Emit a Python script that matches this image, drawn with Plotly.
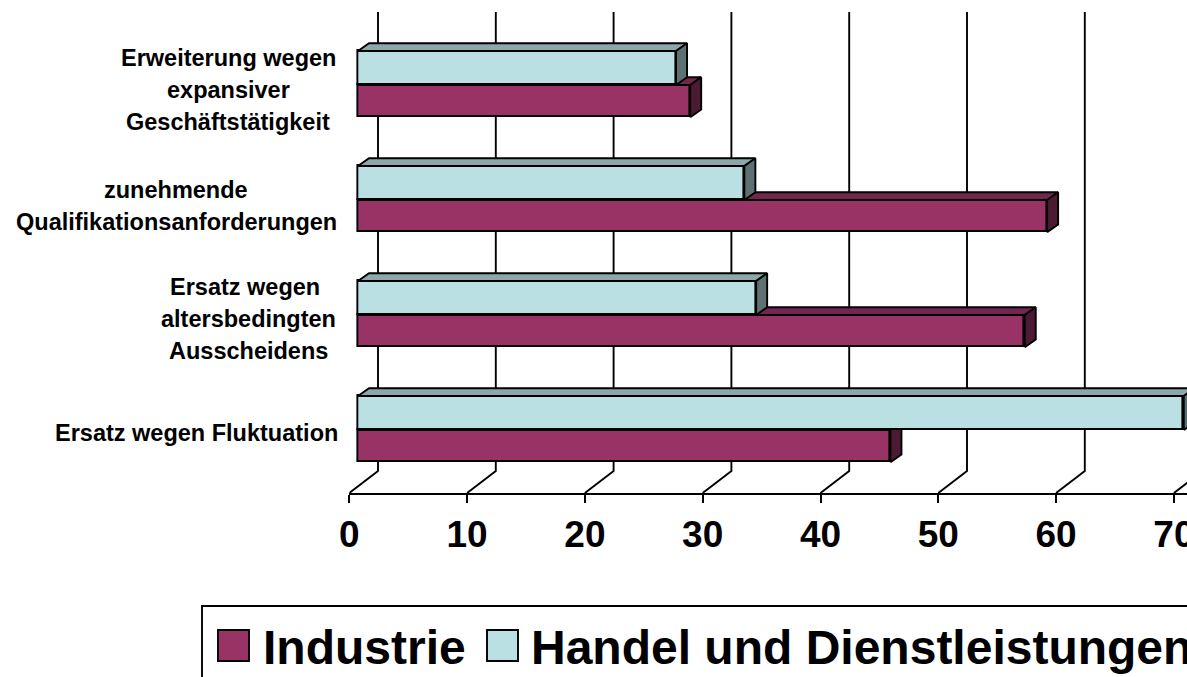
import plotly.graph_objects as go

# ---- data (bottom to top) ----
categories = [
    "Ersatz wegen Fluktuation",
    "Ersatz wegen <br>altersbedingten<br>Ausscheidens",
    "zunehmende<br>Qualifikationsanforderungen",
    "Erweiterung wegen<br>expansiver<br>Geschäftstätigkeit",
]
industrie = [45.2, 56.6, 58.5, 28.2]
handel = [70.1, 33.8, 32.8, 27.0]
ticks = [0, 10, 20, 30, 40, 50, 60, 70]
series_names = ["Industrie", "Handel und Dienstleistungen"]

# ---- styles ----
W, H = 1187, 677
FONT = "Liberation Sans"
RED, RED_TOP, RED_SIDE = "#993366", "#732650", "#4D1A33"
TEAL, TEAL_TOP, TEAL_SIDE = "#BBE0E3", "#8CA8AA", "#5E7072"
LW = 1.9

PX_X = 11.78          # px per x unit
PX_Y = 115.0          # px per category
AXIS_L, BAR_L = 349.3, 358.0
AXIS_Y, ZERO_Y, TOP_Y, WALL_Y = 493.0, 430.0, 12.0, 471.0
BACK_DX = (378 - AXIS_L) / PX_X
DEPTH_DX = 11.0 / PX_X
DEPTH_DY = 7.7 / PX_Y
RED_H = 0.281
TEAL_H = 0.296

y_lo = (ZERO_Y - AXIS_Y) / PX_Y
y_hi = (ZERO_Y - TOP_Y) / PX_Y
y_wall = (ZERO_Y - WALL_Y) / PX_Y
x_hi = (W - AXIS_L) / PX_X
bar_shift = (BAR_L - AXIS_L) / PX_X


def px(x):
    return x / W


def py(y):
    return 1 - y / H


fig = go.Figure()

# back wall and floor lines
gx, gy = [], []
for t in ticks:
    gx += [t + BACK_DX, t + BACK_DX, t, None]
    gy += [y_hi, y_wall, y_lo, None]
fig.add_trace(go.Scatter(x=gx, y=gy, mode="lines", line=dict(color="black", width=LW),
                         hoverinfo="skip", showlegend=False))


def add_series(name, values, y0_off, y1_off, front, top, side, ax):
    xa, ya = f"x{ax}", f"y{ax}"
    fig.add_trace(go.Bar(
        name=name, x=values, y=list(range(len(values))), orientation="h",
        base=0, offset=y0_off, width=y1_off - y0_off,
        marker=dict(color=front, line=dict(color="black", width=LW)),
        xaxis=xa, yaxis=ya, showlegend=False))
    for i, v in enumerate(values):
        y0, y1 = i + y0_off, i + y1_off
        fig.add_trace(go.Scatter(
            x=[0, v, v + DEPTH_DX, DEPTH_DX, 0],
            y=[y1, y1, y1 + DEPTH_DY, y1 + DEPTH_DY, y1],
            mode="lines", fill="toself", fillcolor=top,
            line=dict(color="black", width=LW), xaxis=xa, yaxis=ya,
            hoverinfo="skip", showlegend=False))
        fig.add_trace(go.Scatter(
            x=[v, v, v + DEPTH_DX, v + DEPTH_DX, v],
            y=[y0, y1, y1 + DEPTH_DY, y0 + DEPTH_DY, y0],
            mode="lines", fill="toself", fillcolor=side,
            line=dict(color="black", width=LW), xaxis=xa, yaxis=ya,
            hoverinfo="skip", showlegend=False))


add_series(series_names[0], industrie, -RED_H, 0, RED, RED_TOP, RED_SIDE, 2)
add_series(series_names[1], handel, 0, TEAL_H, TEAL, TEAL_TOP, TEAL_SIDE, 3)

# ---- axes ----
x_domain = [px(AXIS_L), 1]
y_domain = [py(AXIS_Y), py(TOP_Y)]
hidden = dict(visible=False, showgrid=False, zeroline=False, automargin=False)
fig.update_layout(
    width=W, height=H, autosize=False,
    margin=dict(l=0, r=0, t=0, b=0),
    paper_bgcolor="white", plot_bgcolor="rgba(0,0,0,0)",
    showlegend=False, bargap=0,
    font=dict(family=FONT, color="black"),
    xaxis=dict(domain=x_domain, range=[0, x_hi], tickmode="array", tickvals=ticks,
               ticktext=[str(t) for t in ticks], showgrid=False, zeroline=False,
               automargin=False,
               showline=True, linecolor="black", linewidth=LW,
               ticks="outside", ticklen=8, tickwidth=LW, tickcolor="black",
               ticklabelstandoff=0, ticklabeloverflow="allow",
               tickfont=dict(family=FONT, size=37, weight=700, color="black")),
    yaxis=dict(domain=y_domain, range=[y_lo, y_hi], **hidden),
    xaxis2=dict(overlaying="x", range=[-bar_shift, x_hi - bar_shift], anchor="y2", **hidden),
    yaxis2=dict(overlaying="y", range=[y_lo, y_hi], anchor="x2", **hidden),
    xaxis3=dict(overlaying="x", range=[-bar_shift, x_hi - bar_shift], anchor="y3", **hidden),
    yaxis3=dict(overlaying="y", range=[y_lo, y_hi], anchor="x3", **hidden),
)

# ---- category labels ----
label_x = [196, 249, 176, 228]
label_y = [433, 319, 206, 90]
LINE_STEP = 32
annotations = []
for c, lx, ly in zip(categories, label_x, label_y):
    lines = c.split("<br>")
    for k, line in enumerate(lines):
        yy = ly + (k - (len(lines) - 1) / 2) * LINE_STEP
        annotations.append(dict(text=line, xref="paper", yref="paper", x=px(lx), y=py(yy),
                                xanchor="center", yanchor="middle", align="center",
                                showarrow=False,
                                font=dict(family=FONT, size=23.5, weight=700, color="black")))

# ---- legend box ----
annotations.append(dict(text=series_names[0], xref="paper", yref="paper", x=px(261), y=py(647),
                        xanchor="left", yanchor="middle", showarrow=False,
                        font=dict(family=FONT, size=48, weight=700, color="black")))
annotations.append(dict(text=series_names[1], xref="paper", yref="paper", x=px(529), y=py(647),
                        xanchor="left", yanchor="middle", showarrow=False,
                        font=dict(family=FONT, size=48, weight=700, color="black")))
fig.update_layout(annotations=annotations, shapes=[
    dict(type="rect", xref="paper", yref="paper", x0=px(202), x1=px(1300), y0=py(720), y1=py(606),
         line=dict(color="black", width=LW), fillcolor="rgba(0,0,0,0)"),
    dict(type="rect", xref="paper", yref="paper", x0=px(218), x1=px(249), y0=py(661), y1=py(630),
         line=dict(color="black", width=LW), fillcolor=RED),
    dict(type="rect", xref="paper", yref="paper", x0=px(487), x1=px(518), y0=py(661), y1=py(630),
         line=dict(color="black", width=LW), fillcolor=TEAL),
])

fig.write_html("out.html", config=dict(displayModeBar=False),
               post_script="document.body.style.margin='0';document.documentElement.style.overflow='hidden';")
